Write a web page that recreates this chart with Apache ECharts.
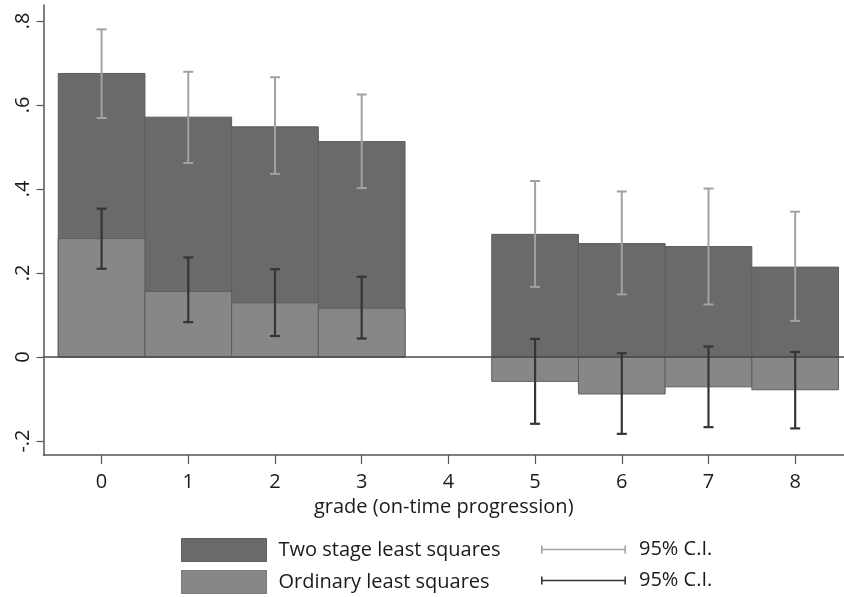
<!DOCTYPE html>
<html>
<head>
<meta charset="utf-8">
<script src="https://cdn.jsdelivr.net/npm/echarts@6/dist/echarts.min.js"></script>
<style>html,body{margin:0;padding:0;background:#fff}#c{width:844px;height:597px}</style>
</head>
<body>
<div id="c"></div>
<script>
const grades = [0, 1, 2, 3, 5, 6, 7, 8];
const tsls = [0.675, 0.571, 0.548, 0.513, 0.292, 0.270, 0.263, 0.214];
const tslsLow = [0.569, 0.462, 0.436, 0.402, 0.167, 0.149, 0.125, 0.086];
const tslsHigh = [0.780, 0.679, 0.666, 0.625, 0.419, 0.394, 0.401, 0.346];
const ols = [0.282, 0.156, 0.129, 0.116, -0.058, -0.088, -0.071, -0.078];
const olsLow = [0.210, 0.083, 0.050, 0.044, -0.159, -0.183, -0.167, -0.170];
const olsHigh = [0.353, 0.237, 0.209, 0.191, 0.043, 0.009, 0.025, 0.012];
const xTicks = [0, 1, 2, 3, 4, 5, 6, 7, 8];
const yTicks = [-0.2, 0, 0.2, 0.4, 0.6, 0.8];

const FONT = 'Open Sans';
const FS = 20;
const C_TSLS = '#6a6a6a', C_OLS = '#878787', C_CI1 = '#a2a2a2', C_CI2 = '#353535';

function barSeries(name, vals, color) {
  return {
    type: 'custom', name: name,
    itemStyle: { color: color, borderColor: '#5a5a5a', borderWidth: 1 },
    data: grades.map((g, i) => [g, vals[i]]),
    encode: { x: 0, y: 1 },
    renderItem: function (params, api) {
      const x = api.value(0), v = api.value(1);
      const p1 = api.coord([x - 0.5, v]);
      const p2 = api.coord([x + 0.5, 0]);
      return {
        type: 'rect',
        shape: { x: p1[0], y: Math.min(p1[1], p2[1]), width: p2[0] - p1[0], height: Math.abs(p2[1] - p1[1]) },
        style: { fill: color, stroke: '#5e5e5e', lineWidth: 1 }
      };
    }
  };
}

function ciSeries(name, lo, hi, color, lw) {
  return {
    type: 'custom', name: name,
    itemStyle: { color: color },
    data: grades.map((g, i) => [g, lo[i], hi[i]]),
    encode: { x: 0, y: [1, 2] },
    z: 5,
    renderItem: function (params, api) {
      const x = api.value(0);
      const a = api.coord([x, api.value(1)]);
      const b = api.coord([x, api.value(2)]);
      const cw = 5;
      const st = { stroke: color, lineWidth: lw };
      return {
        type: 'group',
        children: [
          { type: 'line', shape: { x1: a[0], y1: a[1], x2: b[0], y2: b[1] }, style: st },
          { type: 'line', shape: { x1: a[0] - cw, y1: a[1], x2: a[0] + cw, y2: a[1] }, style: st },
          { type: 'line', shape: { x1: b[0] - cw, y1: b[1], x2: b[0] + cw, y2: b[1] }, style: st }
        ]
      };
    }
  };
}

const ciIcon = 'path://M0,0h1.6v8h-1.6z M0,3.2h85v1.6h-85z M83.4,0h1.6v8h-1.6z';

const chart = echarts.init(document.getElementById('c'), null, { renderer: 'canvas' });
const tsBar = barSeries('Two stage least squares', tsls, C_TSLS);
const olsBar = barSeries('Ordinary least squares', ols, C_OLS);
olsBar.markLine = {
  silent: true, symbol: 'none', label: { show: false },
  lineStyle: { color: '#4a4a4a', width: 1.5, type: 'solid' },
  data: [{ yAxis: 0 }]
};

chart.setOption({
  animation: false,
  backgroundColor: '#fff',
  textStyle: { fontFamily: FONT },
  grid: { left: 43.5, right: 0, top: 5, bottom: 142, containLabel: false },
  xAxis: {
    type: 'value', min: -0.67, max: 8.563,
    name: 'grade (on-time progression)', nameLocation: 'middle', nameGap: 38,
    nameTextStyle: { fontFamily: FONT, fontSize: FS, color: '#1a1a1a' },
    axisLine: { show: true, onZero: false, lineStyle: { color: '#555', width: 1.5 } },
    axisTick: { show: true, length: 9, customValues: xTicks, lineStyle: { color: '#555', width: 1.2 } },
    axisLabel: { customValues: xTicks, margin: 17, fontFamily: FONT, fontSize: FS, color: '#1a1a1a' },
    splitLine: { show: false }
  },
  yAxis: {
    type: 'value', min: -0.2333, max: 0.838,
    axisLine: { show: true, onZero: false, lineStyle: { color: '#555', width: 1.5 } },
    axisTick: { show: true, length: 7, customValues: yTicks, lineStyle: { color: '#555', width: 1.2 } },
    axisLabel: {
      customValues: yTicks, rotate: 90, margin: 10, fontFamily: FONT, fontSize: FS, color: '#1a1a1a',
      formatter: function (v) {
        if (Math.abs(v) < 1e-9) return '0';
        const s = Math.abs(v).toFixed(1).replace(/^0/, '');
        return (v < 0 ? '-' : '') + s;
      }
    },
    splitLine: { show: false }
  },
  legend: [
    {
      orient: 'vertical', left: 181, top: 538, padding: 0, itemGap: 8, itemWidth: 85, itemHeight: 23,
      textStyle: { fontFamily: FONT, fontSize: FS, color: '#1a1a1a', lineHeight: 23, padding: [0, 0, 0, 7] },
      selectedMode: false,
      data: [
        { name: 'Two stage least squares', icon: 'rect', itemStyle: { color: C_TSLS, borderColor: '#5e5e5e', borderWidth: 1 } },
        { name: 'Ordinary least squares', icon: 'rect', itemStyle: { color: C_OLS, borderColor: '#7a7a7a', borderWidth: 1 } }
      ]
    },
    {
      orient: 'vertical', left: 541, top: 538, padding: 0, itemGap: 8, itemWidth: 85, itemHeight: 8,
      textStyle: { fontFamily: FONT, fontSize: FS, color: '#1a1a1a', lineHeight: 23, padding: [0, 0, 0, 8] },
      selectedMode: false,
      formatter: function (n) { return '95% C.I.'; },
      data: [
        { name: '95% C.I. (2SLS)', icon: ciIcon, itemStyle: { color: C_CI1, borderWidth: 0 } },
        { name: '95% C.I. (OLS)', icon: ciIcon, itemStyle: { color: C_CI2, borderWidth: 0 } }
      ]
    }
  ],
  series: [
    tsBar,
    olsBar,
    ciSeries('95% C.I. (2SLS)', tslsLow, tslsHigh, C_CI1, 2),
    ciSeries('95% C.I. (OLS)', olsLow, olsHigh, C_CI2, 2.2)
  ]
});
</script>
</body>
</html>
